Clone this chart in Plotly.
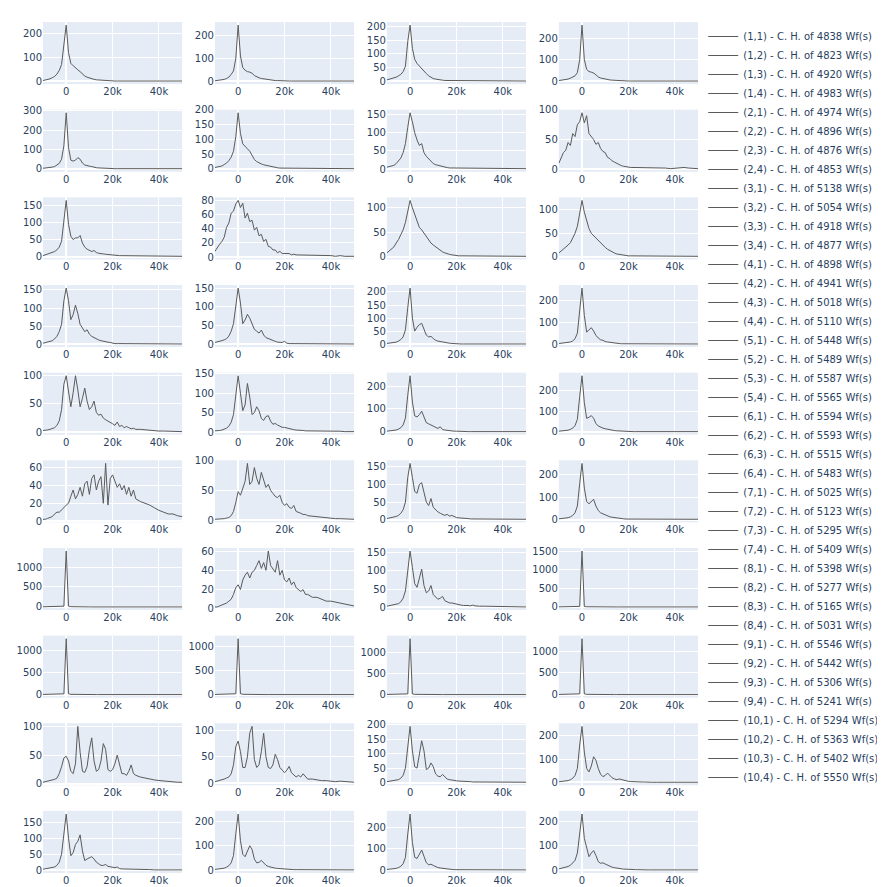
import plotly.graph_objects as go
from plotly.subplots import make_subplots

# Bin centres (charge) shared by every histogram
X = [-10000, -9000, -8000, -7000, -6000, -5000, -4000, -3000, -2000, -1000,
     0, 1000, 2000, 3000, 4000, 5000, 6000, 7000, 8000, 9000,
     10000, 11000, 12000, 13000, 14000, 15000, 16000, 17000, 18000, 19000,
     20000, 21000, 22000, 23000, 24000, 25000, 26000, 27000, 28000, 29000,
     30000, 32000, 34000, 36000, 38000, 40000, 42000, 44000, 46000, 48000, 50000]

COUNTS = [4838, 4823, 4920, 4983, 4974, 4896, 4876, 4853, 5138, 5054,
          4918, 4877, 4898, 4941, 5018, 5110, 5448, 5489, 5587, 5565,
          5594, 5593, 5515, 5483, 5025, 5123, 5295, 5409, 5398, 5277,
          5165, 5031, 5546, 5442, 5306, 5241, 5294, 5363, 5402, 5550]

S11 = [3,5,8,10,15,20,30,45,70,150, 235, 120,75,65,55,48,40,30,22,17,13,10,8,6,5,4,3,3,2,2,2,1,1,1,1,1,1,1,1,1,1, 1,1,1,1,1,1,1,1,1,1]
S12 = [2,3,4,6,8,12,18,30,45,100, 245, 110,60,48,42,40,35,25,18,15,12,10,8,6,5,4,3,3,2,2,2,1,1,1,1,1,1,1,1,1,1, 1,1,1,1,1,1,1,1,1,1]
S13 = [5,7,10,12,15,20,25,35,55,145, 205, 120,80,65,55,45,38,28,20,14,10,8,6,5,4,3,3,2,2,2,1,1,1,1,1,1,1,1,1,1,1, 1,1,1,1,1,1,1,1,1,1]
S14 = [3,4,6,8,10,14,20,25,40,100, 260, 100,55,45,42,38,30,20,15,12,10,8,6,5,4,3,3,2,2,2,1,1,1,1,1,1,1,1,1,1,1, 1,1,1,1,1,1,1,1,1,1]
S21 = [3,4,5,7,9,12,18,28,50,120, 290, 110,45,40,45,58,50,30,20,15,14,12,8,6,5,4,3,3,2,2,2,1,1,1,1,1,1,1,1,1,1, 1,1,1,1,1,1,1,1,1,1]
S22 = [5,6,8,10,15,20,28,40,60,110, 190, 120,85,75,68,60,45,32,25,20,17,14,12,10,8,6,5,4,3,3,2,2,2,1,1,1,1,1,1,1,1, 1,1,1,1,1,1,1,1,1,1]
S23 = [5,6,8,10,15,22,30,45,70,115, 155, 130,100,80,65,70,45,35,28,22,15,12,10,8,6,5,4,3,3,2,2,2,1,1,1,1,1,1,1,1,1, 1,1,1,1,1,1,1,1,1,1]
S24 = [10,18,28,32,45,40,60,55,75,80, 95, 78,90,60,55,50,42,45,35,30,28,20,18,14,12,10,7,6,5,4,4,3,3,3,2,2,2,2,2,2,2, 2,2,2,1,2,2,3,2,2,1]
S31 = [3,5,8,10,12,15,20,28,45,100, 165, 95,60,50,55,55,62,40,28,22,18,15,18,12,10,8,8,7,6,5,5,4,4,3,3,3,2,2,2,2,2, 2,2,1,1,1,1,1,1,1,1]
S32 = [8,14,18,22,28,42,48,62,65,75, 80, 70,76,55,62,50,52,38,42,30,32,22,25,15,14,10,10,6,8,5,5,4,5,3,4,3,3,2,3,3,2, 2,2,2,2,2,1,2,1,1,1]
S33 = [8,12,15,20,28,35,45,55,70,90, 115, 100,85,70,60,55,48,40,35,28,24,20,16,12,10,8,6,5,4,3,3,2,2,2,2,1,1,1,1,1,1, 1,1,1,1,1,1,1,1,1,1]
S34 = [8,12,15,20,25,30,40,50,65,90, 120, 95,75,60,50,45,40,35,28,24,20,16,13,10,8,6,5,4,3,3,2,2,2,2,1,1,1,1,1,1,1, 1,1,1,1,1,1,1,1,1,1]
S41 = [3,5,6,8,10,15,22,35,55,120, 155, 120,68,82,108,85,55,45,35,40,28,22,18,15,12,10,8,6,6,5,3,2,2,2,1,1,1,1,1,1,1, 1,1,1,1,1,1,1,1,1,1]
S42 = [5,6,8,10,12,15,22,35,55,110, 150, 110,55,65,80,70,55,40,35,30,38,25,18,15,12,10,8,6,5,5,8,3,2,2,2,1,1,1,1,1,1, 1,1,1,1,1,1,1,1,1,1]
S43 = [3,4,5,6,8,12,18,28,55,140, 215, 100,50,65,75,80,55,35,28,30,22,15,12,10,8,6,5,4,3,2,2,2,1,1,1,1,1,1,1,1,1, 1,1,1,1,1,1,1,1,1,1]
S44 = [3,4,5,6,8,10,15,25,50,150, 255, 130,55,65,75,60,40,28,20,18,12,10,8,6,5,4,3,2,2,2,1,1,1,1,1,1,1,1,1,1,1, 1,1,1,1,1,1,1,1,1,1]
S51 = [3,3,4,5,6,8,12,20,40,85, 100, 75,45,70,100,75,45,60,78,55,40,45,55,35,30,32,25,22,20,18,15,12,18,10,12,8,10,8,6,7,5, 5,4,3,3,2,2,2,2,1,1]
S52 = [3,3,4,5,7,10,15,25,45,100, 145, 100,55,70,125,90,45,50,65,55,35,30,40,42,28,20,22,18,15,12,12,10,8,7,6,5,5,4,4,3,3, 3,3,2,2,2,2,2,1,1,1]
S53 = [3,4,5,6,8,12,18,30,60,160, 245, 130,70,65,75,90,60,40,35,30,28,20,15,22,10,8,6,5,4,3,3,2,2,2,1,1,1,1,1,1,1, 1,1,1,1,1,1,1,1,1,1]
S54 = [3,4,5,6,8,12,18,30,60,170, 270, 140,65,70,78,65,40,28,22,18,15,12,10,8,6,5,4,3,2,2,2,1,1,1,1,1,1,1,1,1,1, 1,1,1,1,1,1,1,1,1,1]
S61 = [2,2,3,4,5,8,10,10,12,15, 18, 20,28,35,25,30,38,28,42,45,30,48,52,35,45,50,20,65,18,48,52,45,38,42,35,40,30,38,28,35,25, 22,20,18,15,12,10,8,8,6,5]
S62 = [2,2,2,3,3,4,5,8,15,30, 48, 42,55,65,95,60,65,88,70,60,80,65,55,60,50,45,40,38,42,30,25,28,22,20,25,15,14,12,10,10,8, 7,6,5,4,4,3,3,3,3,2]
S63 = [3,4,5,7,9,12,18,28,50,120, 160, 120,80,75,100,105,80,50,40,60,35,28,22,18,14,12,15,10,12,8,6,5,5,4,3,3,2,2,2,2,1, 1,1,1,1,1,1,1,1,1,1]
S64 = [3,4,5,6,8,12,18,30,60,160, 250, 140,80,70,80,90,60,40,30,25,20,15,12,10,8,6,5,4,3,2,2,2,1,1,1,1,1,1,1,1,1, 1,1,1,1,1,1,1,1,1,1]
S71 = [5,5,5,5,6,6,7,8,10,20, 1400, 20,8,5,4,3,3,2,2,2,2,1,1,1,1,1,1,1,1,1,1,1,1,1,1,1,1,1,1,1,1, 1,1,1,1,1,1,1,1,1,1]
S72 = [2,2,3,4,5,6,8,10,15,22, 25, 20,30,35,38,32,38,40,45,50,42,48,40,60,45,42,38,50,35,40,30,28,32,25,28,22,20,18,20,15,15, 12,12,10,8,8,7,6,5,4,3]
S73 = [3,4,5,6,8,10,15,25,45,110, 155, 110,65,55,80,105,60,40,45,60,35,28,22,25,30,18,15,12,12,10,8,7,6,5,6,5,4,6,4,3,3, 3,3,2,2,2,2,2,1,1,1]
S74 = [3,3,3,4,4,5,5,6,8,15, 1500, 15,6,4,3,3,2,2,2,2,1,1,1,1,1,1,1,1,1,1,1,1,1,1,1,1,1,1,1,1,1, 1,1,1,1,1,1,1,1,1,1]
S81 = [4,4,4,5,5,5,6,7,9,18, 1270, 18,7,5,4,3,2,2,2,2,1,1,1,1,1,1,1,1,1,1,1,1,1,1,1,1,1,1,1,1,1, 1,1,1,1,1,1,1,1,1,1]
S82 = [4,4,4,5,5,5,6,7,9,18, 1170, 18,7,5,4,3,2,2,2,2,1,1,1,1,1,1,1,1,1,1,1,1,1,1,1,1,1,1,1,1,1, 1,1,1,1,1,1,1,1,1,1]
S83 = [4,4,4,5,5,5,6,7,9,18, 1340, 18,7,5,4,3,2,2,2,2,1,1,1,1,1,1,1,1,1,1,1,1,1,1,1,1,1,1,1,1,1, 1,1,1,1,1,1,1,1,1,1]
S84 = [4,4,4,5,5,5,6,7,9,18, 1290, 18,7,5,4,3,2,2,2,2,1,1,1,1,1,1,1,1,1,1,1,1,1,1,1,1,1,1,1,1,1, 1,1,1,1,1,1,1,1,1,1]
S91 = [3,4,5,5,6,8,10,18,30,45, 48, 40,22,18,35,100,55,22,20,30,60,80,40,22,25,40,70,60,25,22,25,35,50,35,18,18,15,22,33,18,15, 12,10,8,7,6,5,5,4,3,3]
S92 = [3,4,5,6,8,10,12,18,35,70, 80, 60,30,30,50,95,108,45,30,35,60,95,50,30,28,35,55,45,30,25,20,25,32,20,15,12,15,12,18,12,8, 8,6,5,5,4,3,4,3,3,2]
S93 = [3,4,5,6,8,10,15,25,50,130, 195, 110,55,50,100,145,110,45,50,68,55,30,22,20,28,18,12,10,8,7,6,5,5,4,4,3,3,2,2,2,2, 2,2,1,1,1,1,1,1,1,1]
S94 = [3,4,5,6,8,12,18,30,60,160, 240, 130,60,45,70,110,95,60,35,25,30,40,30,20,15,12,15,12,8,6,5,4,3,3,2,2,2,2,1,1,1, 1,1,1,1,1,1,1,1,1,1]
S101 = [3,4,5,6,8,10,15,25,50,120, 175, 100,45,55,80,90,110,60,30,35,38,42,35,25,20,15,15,18,12,10,8,8,10,5,4,4,3,3,3,2,2, 2,2,2,1,1,1,1,1,1,1]
S102 = [3,4,5,6,8,12,18,30,60,150, 230, 120,65,55,80,100,85,45,30,32,40,30,20,15,12,10,8,7,6,5,4,3,3,2,2,2,2,1,1,1,1, 1,1,1,1,1,1,1,1,1,1]
S103 = [3,4,5,6,8,12,18,30,60,170, 265, 130,60,55,75,95,65,35,25,28,22,15,12,10,8,6,5,4,3,2,2,2,1,1,1,1,1,1,1,1,1, 1,1,1,1,1,1,1,1,1,1]
S104 = [5,7,10,12,15,20,30,40,70,140, 230, 130,90,55,70,80,60,35,28,30,25,20,15,12,10,8,6,5,4,4,3,2,2,2,2,1,1,1,1,1,1, 1,1,1,1,1,1,1,1,1,1]

SERIES = [S11, S12, S13, S14, S21, S22, S23, S24, S31, S32, S33, S34,
          S41, S42, S43, S44, S51, S52, S53, S54, S61, S62, S63, S64,
          S71, S72, S73, S74, S81, S82, S83, S84, S91, S92, S93, S94,
          S101, S102, S103, S104]

ROWS, COLS = 10, 4
fig = make_subplots(rows=ROWS, cols=COLS, horizontal_spacing=0.05, vertical_spacing=0.03)

for k, ys in enumerate(SERIES):
    r, c = k // COLS + 1, k % COLS + 1
    n = min(len(X), len(ys))
    fig.add_trace(
        go.Scatter(
            x=X[:n], y=ys[:n], mode="lines",
            name=f"({r},{c}) - C. H. of {COUNTS[k]} Wf(s)",
            line=dict(color="#5a5a5a", width=1),
        ),
        row=r, col=c,
    )

fig.update_xaxes(range=[-10000, 50000])
fig.update_layout(
    template="plotly",
    width=885, height=887,
    margin=dict(l=29, r=195, t=9, b=17),
    font=dict(family="DejaVu Sans, Verdana, sans-serif", size=10),
    legend=dict(x=1.008, y=1.0, xanchor="left", yanchor="top",
                font=dict(family="DejaVu Sans, Verdana, sans-serif", size=10)),
)

fig.write_html("out.html")
